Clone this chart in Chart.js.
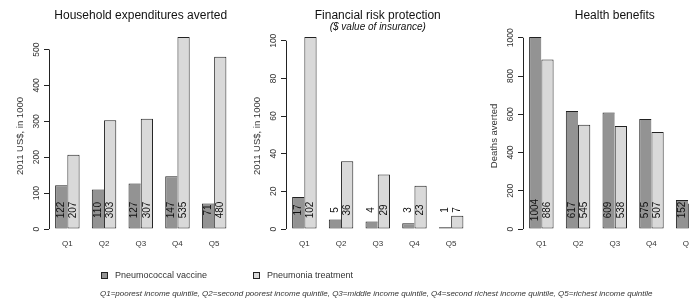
<!DOCTYPE html>
<html><head><meta charset="utf-8">
<script src="https://cdn.jsdelivr.net/npm/chart.js@4.4.1/dist/chart.umd.min.js"></script>
<style>
html,body{margin:0;padding:0;background:#fff;}
body{width:689px;height:304px;overflow:hidden;position:relative;font-family:"Liberation Sans",Arial,sans-serif;}
canvas{position:absolute;top:0;}
#legend{position:absolute;left:0;top:0;width:689px;height:304px;pointer-events:none;}
.lg-box{position:absolute;width:5px;height:5px;border:1px solid #222;}
.lg-text{position:absolute;font-size:9px;color:#333;white-space:nowrap;line-height:10px;}
#note{position:absolute;top:289px;left:100px;font-size:8px;font-style:italic;color:#333;white-space:nowrap;line-height:10px;}
</style></head><body>
<canvas id="c1" width="236" height="250" style="left:0px"></canvas>
<canvas id="c2" width="236" height="250" style="left:236.5px"></canvas>
<canvas id="c3" width="236" height="250" style="left:473.5px"></canvas>
<div id="legend"></div>
<div id="note"></div>
<script>
// ---- data ----
const categories = ['Q1', 'Q2', 'Q3', 'Q4', 'Q5'];
const seriesNames = ['Pneumococcal vaccine', 'Pneumonia treatment'];
const vaccineHousehold = [122, 110, 127, 147, 71];
const treatmentHousehold = [207, 303, 307, 535, 480];
const vaccineFinancial = [17, 5, 4, 3, 1];
const treatmentFinancial = [102, 36, 29, 23, 7];
const vaccineDeaths = [1004, 617, 609, 575, 152];
const treatmentDeaths = [886, 545, 538, 507, 134];
const ticksHousehold = [0, 100, 200, 300, 400, 500];
const ticksFinancial = [0, 20, 40, 60, 80, 100];
const ticksDeaths = [0, 200, 400, 600, 800, 1000];
const footnote = 'Q1=poorest income quintile, Q2=second poorest income quintile, Q3=middle income quintile, Q4=second richest income quintile, Q5=richest income quintile';

// ---- style ----
const FONT = '"Liberation Sans", Arial, sans-serif';
const colVaccine = '#939393';
const colTreatment = '#d9d9d9';
const colBorder = '#222222';

function alignPx(p){ return Math.round(p - 0.5) + 0.5; }

const rStyle = {
  id: 'rStyle',
  afterDatasetsDraw(chart) {
    const ctx = chart.ctx, ys = chart.scales.y;
    const yLab = ys.getPixelForValue(0) - 19;
    ctx.save();
    ctx.fillStyle = '#111';
    ctx.font = '10px ' + FONT;
    chart.data.datasets.forEach((ds, i) => {
      chart.getDatasetMeta(i).data.forEach((bar, j) => {
        ctx.save();
        ctx.translate(bar.x, yLab);
        ctx.rotate(-Math.PI / 2);
        ctx.textAlign = 'center';
        ctx.textBaseline = 'middle';
        ctx.fillText(String(ds.data[j]), 0, 0);
        ctx.restore();
      });
    });
    ctx.restore();
  },
  afterDraw(chart) {
    const ctx = chart.ctx, ys = chart.scales.y;
    const t = ys.ticks;
    const x = alignPx(ys.right);
    ctx.save();
    ctx.strokeStyle = colBorder;
    ctx.lineWidth = 1;
    ctx.beginPath();
    ctx.moveTo(x, ys.getPixelForValue(t[0].value));
    ctx.lineTo(x, ys.getPixelForValue(t[t.length - 1].value));
    ctx.stroke();
    ctx.restore();
  }
};

function makePanel(id, title, subtitle, yTitle, vac, trt, tickVals, tickPad) {
  const M = Math.max(...vac, ...trt);
  // R-like plot region: y from 29.3 to 236.7 px, ylim = [-0.04M, 1.04M]
  const ppu = (236.7 - 29.3) / (1.08 * M);
  const zero = 236.7 - 0.04 * M * ppu;
  const top = 35, bottom = 237;
  const yMin = -(bottom - zero) / ppu;
  const yMax = (zero - top) / ppu;
  const titlePad = subtitle ? {top: 8, bottom: 0} : {top: 8, bottom: 12.6};
  return new Chart(document.getElementById(id), {
    type: 'bar',
    data: {
      labels: categories,
      datasets: [
        {label: seriesNames[0], data: vac, backgroundColor: colVaccine, borderColor: colBorder,
         borderWidth: {top: 1, left: 1, bottom: 1, right: 0}, borderSkipped: false,
         categoryPercentage: 2/3, barPercentage: 1, clip: false},
        {label: seriesNames[1], data: trt, backgroundColor: colTreatment, borderColor: colBorder,
         borderWidth: 1, borderSkipped: false,
         categoryPercentage: 2/3, barPercentage: 1, clip: false}
      ]
    },
    options: {
      responsive: false,
      animation: false,
      events: [],
      layout: {padding: {left: 0, right: 3.5, top: 0, bottom: 0}},
      plugins: {
        legend: {display: false},
        tooltip: {enabled: false},
        title: {display: true, text: title, fullSize: false, color: '#111',
                font: {family: FONT, size: 12, weight: 'normal', lineHeight: 1.2}, padding: titlePad},
        subtitle: {display: !!subtitle, text: subtitle || '', fullSize: false, color: '#111',
                font: {family: FONT, size: 10, style: 'italic', weight: 'normal', lineHeight: 1}, padding: {top: 0, bottom: 2.6}}
      },
      scales: {
        x: {
          grid: {display: false, drawTicks: false},
          border: {display: false},
          ticks: {font: {family: FONT, size: 8}, color: '#333', padding: 2, maxRotation: 0, autoSkip: false},
          afterFit: s => { s.height = 13; }
        },
        y: {
          type: 'linear', min: yMin, max: yMax,
          afterBuildTicks: s => { s.ticks = tickVals.map(v => ({value: v})); },
          afterFit: s => { s.width = 49; },
          grid: {drawOnChartArea: false, drawTicks: true, tickLength: 5, color: colBorder, lineWidth: 1},
          border: {display: false},
          ticks: {font: {family: FONT, size: 8.5}, color: '#333', minRotation: 90, maxRotation: 90,
                  crossAlign: 'center', padding: tickPad, callback: v => String(v)},
          title: {display: true, text: yTitle, color: '#333', font: {family: FONT, size: 9.5, lineHeight: 1.2},
                  padding: {top: 14.3, bottom: 0}}
        }
      }
    },
    plugins: [rStyle]
  });
}

makePanel('c1', 'Household expenditures averted', null, '2011 US$, in 1000', vaccineHousehold, treatmentHousehold, ticksHousehold, 0);
makePanel('c2', 'Financial risk protection', '($ value of insurance)', '2011 US$, in 1000', vaccineFinancial, treatmentFinancial, ticksFinancial, 0);
makePanel('c3', 'Health benefits', null, 'Deaths averted', vaccineDeaths, treatmentDeaths, ticksDeaths, -2.5);

// ---- legend & footnote ----
const lg = document.getElementById('legend');
const lgPos = [{box: 101, text: 115}, {box: 253, text: 267}];
const lgCols = [colVaccine, colTreatment];
seriesNames.forEach((name, i) => {
  const b = document.createElement('div');
  b.className = 'lg-box';
  b.style.left = lgPos[i].box + 'px';
  b.style.top = '272px';
  b.style.background = lgCols[i];
  lg.appendChild(b);
  const t = document.createElement('div');
  t.className = 'lg-text';
  t.style.left = lgPos[i].text + 'px';
  t.style.top = '270px';
  t.textContent = name;
  lg.appendChild(t);
});
document.getElementById('note').textContent = footnote;
</script>
</body></html>
